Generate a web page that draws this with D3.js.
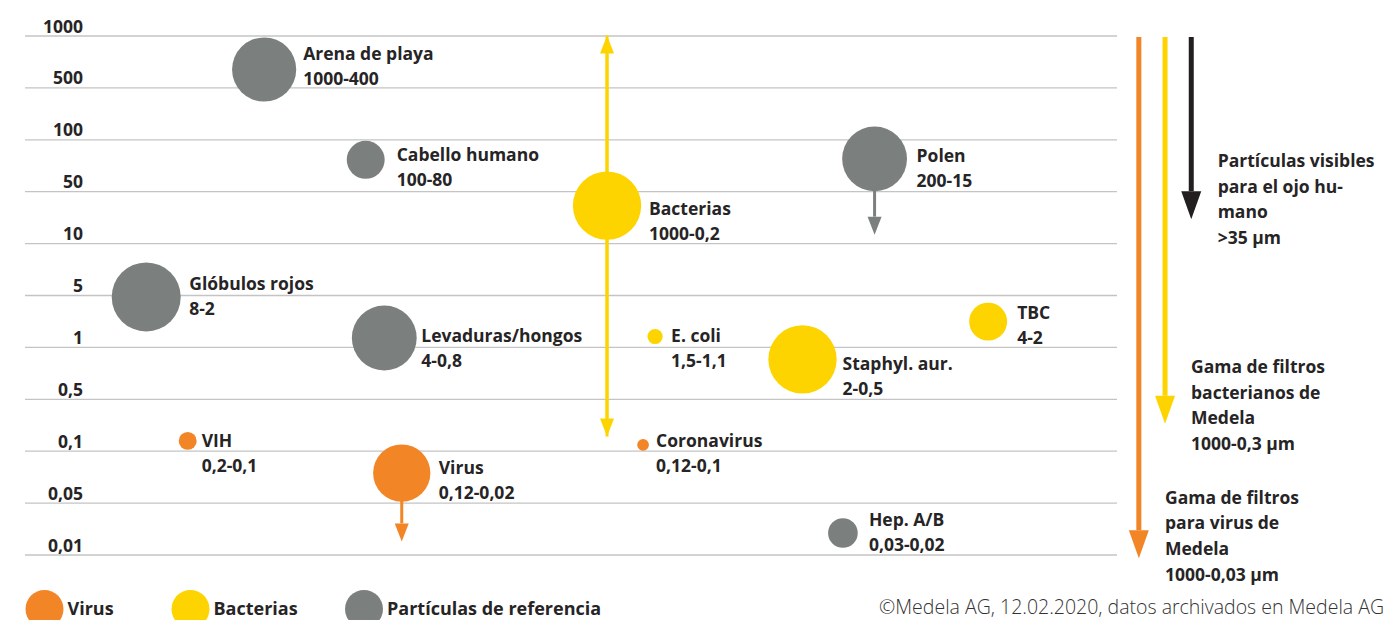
<!DOCTYPE html>
<html>
<head>
<meta charset="utf-8">
<script src="https://cdn.jsdelivr.net/npm/d3@7"></script>
<style>
  body { margin: 0; background: #fff; }
  svg { display: block; font-family: "Open Sans", Lato, sans-serif; }
  .lbl { font-weight: 700; font-size: 17.5px; fill: #262425; }
</style>
</head>
<body>
<div id="chart"></div>
<script>
// y axis ticks (µm), evenly spaced rows
const tickValues = [1000, 500, 100, 50, 10, 5, 1, 0.5, 0.1, 0.05, 0.01];
const tickLabels = ["1000", "500", "100", "50", "10", "5", "1", "0,5", "0,1", "0,05", "0,01"];

// particles
const names = ["Arena de playa", "Cabello humano", "Polen", "Bacterias", "Glóbulos rojos",
  "Levaduras/hongos", "E. coli", "TBC", "Staphyl. aur.", "VIH", "Coronavirus", "Virus", "Hep. A/B"];
const ranges = ["1000-400", "100-80", "200-15", "1000-0,2", "8-2",
  "4-0,8", "1,5-1,1", "4-2", "2-0,5", "0,2-0,1", "0,12-0,1", "0,12-0,02", "0,03-0,02"];
const groups = ["ref", "ref", "ref", "bac", "ref", "ref", "bac", "bac", "bac", "vir", "vir", "vir", "ref"];
const sizeValues = [635, 76, 77, 32, 4.7, 1.32, 1.38, 2.19, 0.846, 0.1355, 0.12, 0.0742, 0.0195];
const columnValues = [21.9, 31.2, 77.8, 53.3, 11.1, 32.9, 57.7, 88.2, 71.2, 14.9, 56.6, 34.5, 74.9];
const dotValues = [93, 55, 94, 99, 100, 94, 22, 55, 99, 26, 17, 83, 43];

// range arrows attached to particles: [name, from, to]
const rangeArrows = [
  ["Bacterias", 0.155, 1000],
  ["Bacterias", 1000, 0.155],
  ["Polen", 77, 13],
  ["Virus", 0.0742, 0.015]
];

// filter ranges on the right
const filterGroups = ["vir", "bac", "eye"];
const filterColumns = [102, 104.4, 106.8];
const filterTo = [0.0089, 0.23, 21];
const filterText = [
  ["Gama de filtros", "para virus de", "Medela", "1000-0,03 µm"],
  ["Gama de filtros", "bacterianos de", "Medela", "1000-0,3 µm"],
  ["Partículas visibles", "para el ojo hu-", "mano", ">35 µm"]
];

const legendGroups = ["vir", "bac", "ref"];
const legendLabels = ["Virus", "Bacterias", "Partículas de referencia"];
const footer = "©Medela AG, 12.02.2020, datos archivados en Medela AG";

const colors = { vir: "#f28526", bac: "#fdd400", ref: "#7b807f", eye: "#231f20" };

// label placement relative to the dot centre
const labelOffset = {
  "Arena de playa": [39, -10], "Cabello humano": [31, 1], "Polen": [42, 3],
  "Bacterias": [42, 9], "Glóbulos rojos": [43, -7], "Levaduras/hongos": [37, 4],
  "E. coli": [16, 5], "TBC": [29, -3], "Staphyl. aur.": [40, 11], "VIH": [14, 6],
  "Coronavirus": [13, 2], "Virus": [37, 1], "Hep. A/B": [26, -7]
};

const width = 1386, height = 620;
const plotLeft = 25, plotRight = 1117, plotTop = 35.5, plotBottom = 554.5;

const svg = d3.select("#chart").append("svg")
  .attr("width", width).attr("height", height);

const yRow = d3.scalePoint().domain(tickLabels).range([plotTop, plotBottom]);
const y = d3.scaleLinear()
  .domain(tickValues.map(Math.log10))
  .range(tickLabels.map(d => yRow(d)));
const yv = v => y(Math.log10(v));
const x = d3.scaleLinear().domain([0, 100]).range([plotLeft, plotRight]);
const r = d3.scaleLinear().domain([0, 100]).range([0, 34.5]);

// grid + tick labels
svg.append("g")
  .attr("transform", `translate(${plotLeft},0)`)
  .call(d3.axisLeft(yRow).tickSize(-(plotRight - plotLeft)))
  .call(g => g.select(".domain").remove())
  .call(g => g.selectAll(".tick line").attr("stroke", "#c4c4c4").attr("stroke-width", 1.3))
  .call(g => g.selectAll(".tick text")
    .attr("x", 58).attr("dy", -3.5)
    .attr("class", "lbl")
    .style("font-family", "\"Open Sans\", sans-serif")
    .attr("fill", "#262425"));

const particles = names.map((n, i) => ({
  name: n, range: ranges[i], group: groups[i],
  value: sizeValues[i], col: columnValues[i], dot: dotValues[i]
}));
const byName = Object.fromEntries(particles.map(d => [d.name, d]));

function arrow(g, x0, y0, y1, color, w, headLen, headHalf) {
  const dir = y1 > y0 ? 1 : -1;
  const base = y1 - dir * headLen;
  g.append("line")
    .attr("x1", x0).attr("x2", x0)
    .attr("y1", y0).attr("y2", base)
    .attr("stroke", color).attr("stroke-width", w);
  g.append("path")
    .attr("d", `M${x0 - headHalf},${base}L${x0 + headHalf},${base}L${x0},${y1}Z`)
    .attr("fill", color);
}

// arrows under dots
const arrowG = svg.append("g");
rangeArrows.forEach(([n, from, to]) => {
  const p = byName[n];
  arrow(arrowG, x(p.col), yv(from), yv(to), colors[p.group], 3, 18, 7);
});

// dots
svg.append("g").selectAll("circle")
  .data(particles)
  .join("circle")
  .attr("cx", d => x(d.col))
  .attr("cy", d => yv(d.value))
  .attr("r", d => r(d.dot))
  .attr("fill", d => colors[d.group]);

// dot labels
const lab = svg.append("g").selectAll("text")
  .data(particles)
  .join("text")
  .attr("class", "lbl")
  .attr("x", d => x(d.col) + labelOffset[d.name][0])
  .attr("y", d => yv(d.value) + labelOffset[d.name][1]);
lab.append("tspan").text(d => d.name);
lab.append("tspan")
  .attr("x", d => x(d.col) + labelOffset[d.name][0])
  .attr("dy", 25)
  .text(d => d.range);

// filter arrows on the right
const filterG = svg.append("g");
filterGroups.forEach((g, i) => {
  arrow(filterG, x(filterColumns[i]), yv(1000) + 1.5, yv(filterTo[i]), colors[g], 5, 28, 10);
});
const noteX = [1165, 1191, 1217.7];
const noteY = [503.5, 372.7, 166.7];
filterText.forEach((lines, i) => {
  const t = filterG.append("text").attr("class", "lbl")
    .attr("x", noteX[i]).attr("y", noteY[i]);
  lines.forEach((l, j) => t.append("tspan")
    .attr("x", noteX[i]).attr("dy", j ? 25.8 : 0).text(l));
});

// legend
const legX = d3.scaleOrdinal().domain(legendGroups).range([44.5, 190.5, 364]);
const leg = svg.append("g").selectAll("g")
  .data(legendGroups)
  .join("g")
  .attr("transform", d => `translate(${legX(d)},609)`);
leg.append("circle").attr("r", 19).attr("fill", d => colors[d]);
leg.append("text")
  .attr("x", 23).attr("y", 6)
  .attr("class", "lbl").style("font-size", "18px")
  .text((d, i) => legendLabels[i]);

// footer
svg.append("text")
  .attr("x", 1384).attr("y", 614)
  .attr("text-anchor", "end")
  .style("font-size", "19.5px").style("font-weight", 300)
  .attr("fill", "#333")
  .text(footer);
</script>
</body>
</html>
